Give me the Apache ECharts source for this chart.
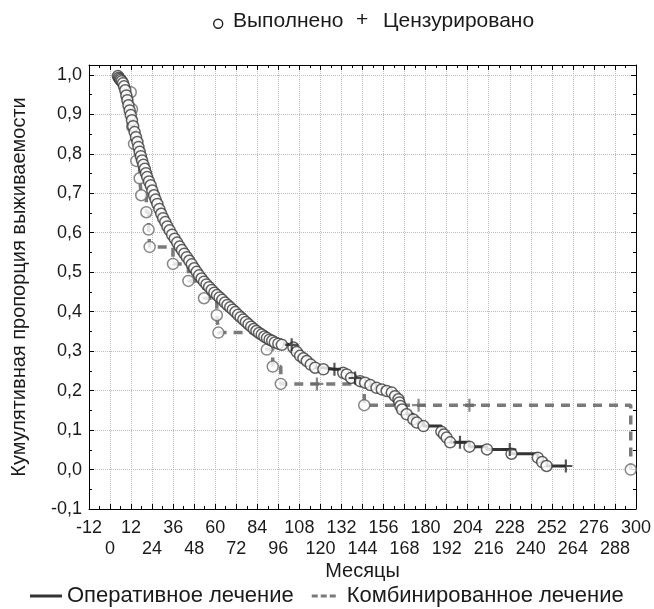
<!DOCTYPE html>
<html>
<head>
<meta charset="utf-8">
<script src="https://cdn.jsdelivr.net/npm/echarts@6/dist/echarts.min.js"></script>
<style>
  html, body { margin: 0; padding: 0; background: #fff; }
  #chart { width: 654px; height: 609px; }
</style>
</head>
<body>
<div id="chart"></div>
<script>
// Оперативное лечение: time (months), survival, status (1 = event, 0 = censored)
var opTime = [4.5, 5.0, 5.5, 6.0, 6.7, 7.4, 8.0, 8.7, 9.3, 9.9, 10.5, 11.2, 11.8, 12.5, 13.2, 14.0, 14.8, 15.6,
  16.2, 16.9, 17.6, 18.3, 19.0, 19.8, 20.5, 21.2, 22.2, 23.2, 24.1, 25.1, 26.0, 27.0, 28.1, 29.2, 30.3, 31.5,
  32.7, 34.0, 35.4, 36.9, 38.3, 39.7, 41.0, 42.4, 43.8, 45.2, 46.6, 48.0, 49.4, 50.8, 52.2, 53.6, 55.0, 56.5,
  58.0, 59.5, 61.0, 62.5, 64.0, 65.5, 67.0, 68.5, 70.0, 71.5, 73.0, 74.5, 76.0, 77.5, 79.0, 80.5, 82.0, 83.5,
  85.0, 86.5, 88.0, 89.5, 91.0, 92.5, 94.0, 96.0, 98.0, 103.6, 104.6, 106.5, 108.4, 110.3, 112.2, 114.5, 117.0,
  121.7, 128.0, 133.0, 135.0, 137.5, 139.8, 142.6, 145.5, 148.5, 152.0, 155.0, 157.8, 160.7, 162.6, 164.5,
  165.0, 165.6, 166.6, 169.2, 173.0, 175.0, 178.8, 189.0, 190.5, 192.0, 194.0, 199.6, 205.0, 215.0, 228.0,
  229.0, 244.0, 246.5, 249.0, 260.0];
var opSurv = [0.997, 0.993, 0.990, 0.987, 0.984, 0.979, 0.971, 0.961, 0.948, 0.936, 0.923, 0.910, 0.898, 0.885,
  0.870, 0.855, 0.842, 0.830, 0.817, 0.805, 0.794, 0.783, 0.772, 0.762, 0.751, 0.741, 0.730, 0.720, 0.707, 0.695,
  0.684, 0.673, 0.660, 0.648, 0.637, 0.627, 0.616, 0.606, 0.595, 0.585, 0.575, 0.565, 0.556, 0.547, 0.538, 0.529,
  0.520, 0.510, 0.501, 0.492, 0.484, 0.476, 0.469, 0.462, 0.455, 0.448, 0.442, 0.436, 0.430, 0.423, 0.417, 0.411,
  0.405, 0.399, 0.392, 0.386, 0.380, 0.374, 0.368, 0.362, 0.356, 0.351, 0.346, 0.342, 0.337, 0.333, 0.329, 0.326,
  0.322, 0.319, 0.316, 0.316, 0.309, 0.298, 0.288, 0.282, 0.275, 0.266, 0.258, 0.254, 0.254, 0.245, 0.241, 0.232,
  0.232, 0.224, 0.220, 0.214, 0.207, 0.203, 0.199, 0.195, 0.186, 0.178, 0.170, 0.161, 0.152, 0.140, 0.127, 0.119,
  0.110, 0.096, 0.089, 0.081, 0.069, 0.069, 0.058, 0.051, 0.051, 0.040, 0.030, 0.019, 0.009, 0.009];
var opStatus = [1, 1, 1, 1, 1, 1, 1, 1, 1, 1, 1, 1, 1, 1, 1, 1, 1, 1, 1, 1, 1, 1, 1, 1, 1, 1, 1, 1, 1, 1, 1, 1, 1,
  1, 1, 1, 1, 1, 1, 1, 1, 1, 1, 1, 1, 1, 1, 1, 1, 1, 1, 1, 1, 1, 1, 1, 1, 1, 1, 1, 1, 1, 1, 1, 1, 1, 1, 1, 1, 1,
  1, 1, 1, 1, 1, 1, 1, 1, 1, 1, 1, 0, 1, 1, 1, 1, 1, 1, 1, 1, 0, 1, 1, 1, 0, 1, 1, 1, 1, 1, 1, 1, 1, 1, 1, 1, 1,
  1, 1, 1, 1, 1, 1, 1, 1, 0, 1, 1, 0, 1, 1, 1, 1, 0];

// Комбинированное лечение
var cbTime = [11.8, 12.5, 12.6, 13.7, 15.0, 16.9, 17.8, 20.7, 22.0, 22.6, 35.9, 44.7, 53.6, 60.9, 61.8, 89.4,
  92.8, 97.4, 118.0, 145.0, 176.0, 205.0, 297.0];
var cbSurv = [0.956, 0.913, 0.869, 0.825, 0.782, 0.738, 0.695, 0.652, 0.608, 0.564, 0.521, 0.478, 0.434, 0.391,
  0.347, 0.304, 0.261, 0.217, 0.217, 0.163, 0.163, 0.163, 0.0];
var cbStatus = [1, 1, 1, 1, 1, 1, 1, 1, 1, 1, 1, 1, 1, 1, 1, 1, 1, 1, 0, 1, 0, 0, 1];

var xTicks = { min: -12, max: 300, step: 12 };
var yTicks = { min: -0.1, max: 1.025, step: 0.1 };

var plusPath = 'path://M5,0h2v5h5v2h-5v5h-2v-5h-5v-2h5z';

function pairs(t, s, st, want) {
    var out = [];
    for (var i = 0; i < t.length; i++) {
        if (want === undefined || st[i] === want) out.push([t[i], s[i]]);
    }
    return out;
}

var opColor = '#353535';
var cbColor = '#7a7a7a';

var chart = echarts.init(document.getElementById('chart'));

var labelFont = { fontFamily: 'Liberation Sans', fontSize: 18, color: '#1a1a1a' };
var frameLine = { show: true, onZero: false, lineStyle: { color: '#000', width: 1 } };
var frameTick = { show: true, inside: true, length: 5, lineStyle: { color: '#000' } };
var frameMinor = { show: true, splitNumber: 2, length: 3, lineStyle: { color: '#000' } };
var gridLine = { show: true, lineStyle: { color: '#bdbdbd', type: 'dotted', width: 1 } };

function yFmt(v) {
    var r = Math.round(v * 10);
    if (Math.abs(v * 10 - r) > 1e-6) return '';
    return (r / 10).toFixed(1).replace('.', ',');
}

// x labels alternate between two rows: row 0 -> -12, 12, 36 ...; row 1 -> 0, 24, 48 ...
function xRow(row) {
    return function (v) {
        var k = Math.round((v - xTicks.min) / xTicks.step);
        return (k % 2 === row) ? '' + v : '';
    };
}

var option = {
    animation: false,
    backgroundColor: '#fff',
    grid: { left: 89, right: 18, top: 65, bottom: 100 },
    xAxis: [{
        type: 'value', min: xTicks.min, max: xTicks.max, interval: xTicks.step,
        name: 'Месяцы', nameLocation: 'middle', nameGap: 52,
        nameTextStyle: { fontFamily: 'Liberation Sans', fontSize: 20, color: '#1a1a1a' },
        axisLine: frameLine, axisTick: frameTick, minorTick: frameMinor,
        axisLabel: Object.assign({ margin: 10, showMaxLabel: true, showMinLabel: true, formatter: xRow(0) }, labelFont),
        splitLine: gridLine
    }, {
        type: 'value', position: 'top', min: xTicks.min, max: xTicks.max, interval: xTicks.step,
        axisLine: frameLine, axisTick: frameTick, minorTick: frameMinor,
        axisLabel: { show: false }, splitLine: { show: false }
    }, {
        type: 'value', position: 'bottom', offset: 21, min: xTicks.min, max: xTicks.max, interval: xTicks.step,
        axisLine: { show: false }, axisTick: { show: false },
        axisLabel: Object.assign({ margin: 10, showMaxLabel: true, showMinLabel: true, formatter: xRow(1) }, labelFont),
        splitLine: { show: false }
    }],
    yAxis: [{
        type: 'value', min: yTicks.min, max: yTicks.max, interval: yTicks.step,
        name: 'Кумулятивная пропорция выживаемости', nameLocation: 'middle', nameGap: 60,
        nameTextStyle: { fontFamily: 'Liberation Sans', fontSize: 20, color: '#1a1a1a' },
        axisLine: frameLine, axisTick: frameTick, minorTick: frameMinor,
        axisLabel: Object.assign({ margin: 7, formatter: yFmt }, labelFont),
        splitLine: gridLine
    }, {
        type: 'value', position: 'right', min: yTicks.min, max: yTicks.max, interval: yTicks.step,
        axisLine: frameLine, axisTick: frameTick, minorTick: frameMinor,
        axisLabel: { show: false }, splitLine: { show: false }
    }],
    legend: {
        bottom: 2, left: 30, padding: 0, itemWidth: 32, itemHeight: 3, itemGap: 18,
        textStyle: { fontFamily: 'Liberation Sans', fontSize: 22, color: '#1a1a1a' },
        data: [
            { name: 'Оперативное лечение', icon: 'path://M0,0h32v3h-32z',
              itemStyle: { color: opColor } },
            { name: 'Комбинированное лечение', icon: 'path://M4,0h6v3h-6z M13,0h6v3h-6z M22,0h6v3h-6z M32,0h0v3h0z',
              itemStyle: { color: cbColor } }
        ]
    },
    graphic: [
        { type: 'circle', left: 213, top: 18.5, shape: { r: 4.5 },
          style: { fill: '#fff', stroke: '#222', lineWidth: 1.4 } },
        { type: 'text', left: 233, top: 11,
          style: { text: 'Выполнено', fontFamily: 'Liberation Sans', fontSize: 21, fill: '#1a1a1a' } },
        { type: 'text', left: 356, top: 10,
          style: { text: '+', fontFamily: 'Liberation Sans', fontSize: 21, fill: '#1a1a1a' } },
        { type: 'text', left: 383, top: 11,
          style: { text: 'Цензурировано', fontFamily: 'Liberation Sans', fontSize: 21, fill: '#1a1a1a' } }
    ],
    series: [
        {
            name: 'Комбинированное лечение', type: 'line', step: 'end', symbol: 'none',
            data: pairs(cbTime, cbSurv, cbStatus),
            lineStyle: { color: cbColor, width: 3.5, type: [9, 7] },
            itemStyle: { color: cbColor }, z: 2
        },
        {
            type: 'scatter', symbol: 'circle', symbolSize: 11,
            data: pairs(cbTime, cbSurv, cbStatus, 1),
            itemStyle: { color: '#fff', borderColor: '#6a6a6a', borderWidth: 1.5 }, z: 3
        },
        {
            type: 'scatter', symbol: plusPath, symbolSize: 13,
            data: pairs(cbTime, cbSurv, cbStatus, 0),
            itemStyle: { color: '#6a6a6a' }, z: 3
        },
        {
            name: 'Оперативное лечение', type: 'line', step: 'end', symbol: 'none',
            data: pairs(opTime, opSurv, opStatus),
            lineStyle: { color: opColor, width: 3 },
            itemStyle: { color: opColor }, z: 4
        },
        {
            type: 'scatter', symbol: 'circle', symbolSize: 11,
            data: pairs(opTime, opSurv, opStatus, 1),
            itemStyle: { color: '#fff', borderColor: '#3a3a3a', borderWidth: 1.5 }, z: 5
        },
        {
            type: 'scatter', symbol: plusPath, symbolSize: 13,
            data: pairs(opTime, opSurv, opStatus, 0),
            itemStyle: { color: '#2a2a2a' }, z: 5
        }
    ]
};

chart.setOption(option);
</script>
</body>
</html>
